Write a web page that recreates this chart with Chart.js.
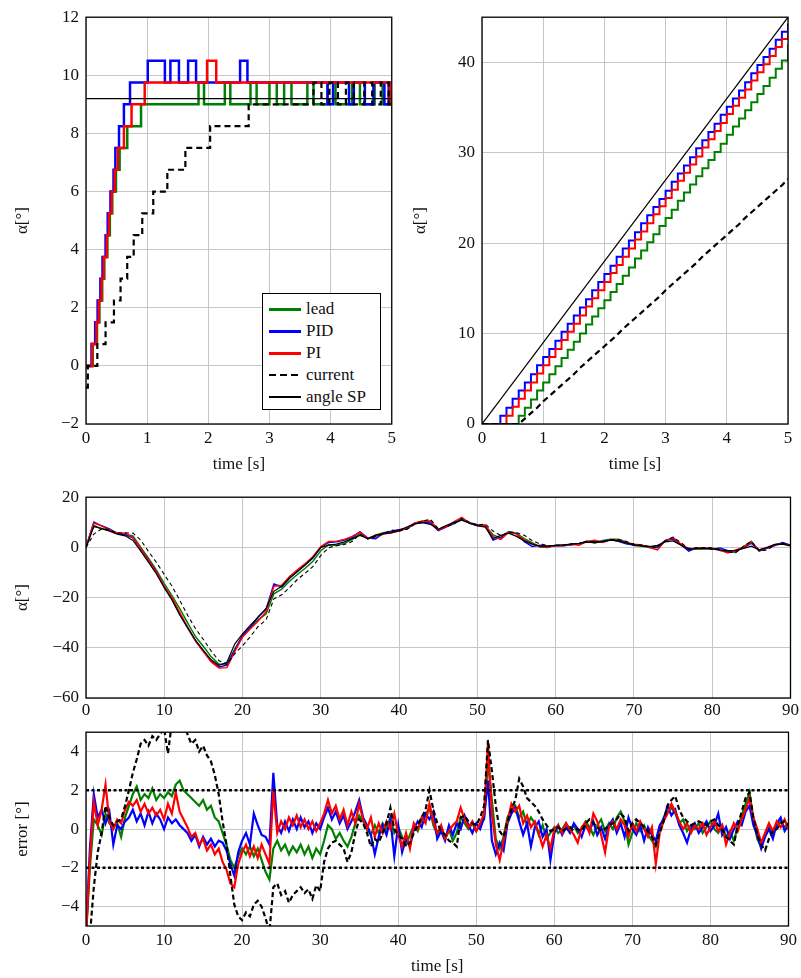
<!DOCTYPE html>
<html>
<head>
<meta charset="utf-8">
<script src="https://cdn.jsdelivr.net/npm/chart.js@4.4.1/dist/chart.umd.min.js"></script>
<style>
  body { margin: 0; background: #fff; width: 801px; height: 978px; position: relative; overflow: hidden; font-family: 'Liberation Serif', serif; }
  canvas { position: absolute; }
  #legend { position: absolute; left: 262px; top: 293px; width: 119px; height: 117px; border: 1px solid #000; background: #fff; padding-top: 4px; box-sizing: border-box; }
  #legend .row { display: flex; align-items: center; height: 22px; font-size: 17px; color: #111; }
  #legend .sample { width: 32px; margin-left: 6px; margin-right: 5px; }
</style>
</head>
<body>
<canvas id="cStart" width="400" height="480" style="left:0;top:0"></canvas>
<canvas id="cRamp" width="400" height="480" style="left:400px;top:0"></canvas>
<canvas id="cAngle" width="801" height="240" style="left:0;top:480px"></canvas>
<canvas id="cError" width="801" height="263" style="left:0;top:715px"></canvas>
<div id="legend"></div>
<script>
// series names / colours shared by all four panels
const seriesNames = ['lead', 'PID', 'PI', 'current', 'angle SP'];
const seriesColors = ['#008000', '#0000ff', '#ff0000', '#000000', '#000000'];

// ---- panel 1: step response, 0..5 s (times where the value changes) ----
const tLead = [0, 0.11, 0.18, 0.22, 0.265, 0.30, 0.35, 0.39, 0.43, 0.49, 0.55, 0.675, 0.90, 1.84, 1.93, 2.27, 2.36, 2.69, 2.79, 3.00, 3.12, 3.24, 3.36, 3.62, 3.72, 3.95, 4.08, 4.35, 4.48, 4.72, 4.85, 5.0];
const vLead = [0, 0.75, 1.5, 2.25, 3.0, 3.75, 4.5, 5.25, 6.0, 6.75, 7.5, 8.25, 9.0, 9.75, 9.0, 9.75, 9.0, 9.75, 9.0, 9.75, 9.0, 9.75, 9.0, 9.75, 9.0, 9.75, 9.0, 9.75, 9.0, 9.75, 9.0, 9.0];
const tPID = [0, 0.09, 0.15, 0.19, 0.235, 0.27, 0.32, 0.355, 0.40, 0.45, 0.48, 0.54, 0.62, 0.72, 1.01, 1.29, 1.38, 1.52, 1.67, 1.80, 2.52, 2.64, 3.95, 4.04, 4.30, 4.38, 4.56, 4.70, 4.88, 4.95, 5.0];
const vPID = [0, 0.75, 1.5, 2.25, 3.0, 3.75, 4.5, 5.25, 6.0, 6.75, 7.5, 8.25, 9.0, 9.75, 10.5, 9.75, 10.5, 9.75, 10.5, 9.75, 10.5, 9.75, 9.0, 9.75, 9.0, 9.75, 9.0, 9.75, 9.0, 9.75, 9.75];
const tPI = [0, 0.10, 0.17, 0.21, 0.255, 0.29, 0.34, 0.375, 0.42, 0.47, 0.52, 0.62, 0.745, 0.96, 1.98, 2.13, 4.97, 5.0];
const vPI = [0, 0.75, 1.5, 2.25, 3.0, 3.75, 4.5, 5.25, 6.0, 6.75, 7.5, 8.25, 9.0, 9.75, 10.5, 9.75, 9.0, 9.0];
const tCur = [0, 0.03, 0.185, 0.32, 0.457, 0.565, 0.674, 0.78, 0.92, 1.10, 1.33, 1.625, 2.03, 2.66, 3.72, 3.85, 3.98, 4.12, 4.25, 4.38, 4.55, 4.68, 4.82, 4.95, 5.0];
const vCur = [-0.75, 0, 0.75, 1.5, 2.25, 3.0, 3.75, 4.5, 5.25, 6.0, 6.75, 7.5, 8.25, 9.0, 9.75, 9.0, 9.75, 9.0, 9.75, 9.0, 9.75, 9.0, 9.75, 9.0, 9.0];
const tSP1 = [0, 5];
const vSP1 = [9.2, 9.2];

// ---- panel 2: ramp response, sampled every 0.1 s ----
const tRamp = [0,0.1,0.2,0.3,0.4,0.5,0.6,0.7,0.8,0.9,1,1.1,1.2,1.3,1.4,1.5,1.6,1.7,1.8,1.9,2,2.1,2.2,2.3,2.4,2.5,2.6,2.7,2.8,2.9,3,3.1,3.2,3.3,3.4,3.5,3.6,3.7,3.8,3.9,4,4.1,4.2,4.3,4.4,4.5,4.6,4.7,4.8,4.9,5];
const rampLead = [0,0,0,0,0,0,0.9,1.8,2.7,3.7,4.6,5.5,6.4,7.3,8.2,9.1,10.0,11.0,11.9,12.8,13.7,14.6,15.5,16.4,17.3,18.3,19.2,20.1,21.0,21.9,22.8,23.7,24.7,25.6,26.5,27.4,28.3,29.2,30.1,31.0,32.0,32.9,33.8,34.7,35.6,36.5,37.4,38.3,39.3,40.2,42.0];
const rampPID = [0,0,0,0.9,1.8,2.8,3.7,4.6,5.5,6.5,7.4,8.3,9.2,10.2,11.1,12.0,12.9,13.8,14.8,15.7,16.6,17.5,18.5,19.4,20.3,21.2,22.2,23.1,24.0,24.9,25.8,26.8,27.7,28.6,29.5,30.5,31.4,32.3,33.2,34.2,35.1,36.0,36.9,37.8,38.8,39.7,40.6,41.5,42.5,43.4,44.3];
const rampPI = [0,0,0,0,0.9,1.9,2.8,3.7,4.6,5.6,6.5,7.4,8.3,9.3,10.2,11.1,12.0,13.0,13.9,14.8,15.7,16.7,17.6,18.5,19.4,20.4,21.3,22.2,23.2,24.1,25.0,25.9,26.9,27.8,28.7,29.6,30.6,31.5,32.4,33.3,34.3,35.2,36.1,37.0,38.0,38.9,39.8,40.7,41.7,42.6,43.5];
const rampCur = [0,0,0,0,0,0,0,0.6,1.2,1.8,2.5,3.1,3.7,4.3,4.9,5.5,6.2,6.8,7.4,8.0,8.6,9.2,9.8,10.5,11.1,11.7,12.3,12.9,13.5,14.1,14.8,15.4,16.0,16.6,17.2,17.8,18.5,19.1,19.7,20.3,20.9,21.5,22.1,22.8,23.4,24.0,24.6,25.2,25.8,26.4,27.1];
const tSP2 = [0, 5];
const vSP2 = [0, 45];

// ---- panel 3: angle over 90 s, sampled every 1 s ----
const tAngle = [0,1,2,3,4,5,6,7,8,9,10,11,12,13,14,15,16,17,18,19,20,21,22,23,24,25,26,27,28,29,30,31,32,33,34,35,36,37,38,39,40,41,42,43,44,45,46,47,48,49,50,51,52,53,54,55,56,57,58,59,60,61,62,63,64,65,66,67,68,69,70,71,72,73,74,75,76,77,78,79,80,81,82,83,84,85,86,87,88,89,90];
const angleSP = [0,8.3,7.6,6.5,5.3,4.6,2.8,-1.5,-6.0,-10.6,
  -16.0,-21.0,-27.0,-32.0,-37.0,-41.0,-44.8,-47.0,-45.8,-38.5,
  -34.5,-31.0,-27.8,-24.3,-17.5,-15.5,-12.2,-9.6,-7.0,-4.0,
  0.0,0.9,1.3,2.2,3.5,4.8,3.5,4.8,5.5,5.8,
  6.8,8.1,9.4,9.9,9.2,7.2,8.7,10.0,10.9,9.6,
  8.7,8.1,3.5,4.8,5.7,4.4,2.6,1.3,0.5,0.5,
  0.8,1.0,1.3,1.6,2.1,2.0,2.3,2.9,2.6,1.8,
  1.0,0.6,0.3,0.8,2.2,2.6,0.9,-0.8,-0.5,-0.4,
  -0.6,-1.0,-1.4,-1.3,-0.4,0.5,-1.0,0.0,1.2,1.3,
  0.6];
const angleLead = [0,8.8,7.3,6.8,5.6,5.2,4.6,0.0,-4.4,-9.1,
  -14.4,-19.3,-24.5,-30.2,-35.6,-39.5,-43.6,-46.6,-46.6,-40.5,
  -35.5,-31.9,-28.8,-26.5,-18.5,-16.6,-13.5,-10.8,-8.3,-5.5,
  -1.3,1.1,0.8,1.6,3.1,5.5,3.5,5.0,5.8,6.4,
  6.9,7.3,9.6,10.4,10.3,6.9,8.3,9.4,11.5,9.6,
  8.6,8.6,5.0,3.8,6.3,5.6,3.5,1.9,0.2,0.0,
  0.9,1.0,1.2,1.4,2.5,1.7,2.8,3.2,3.2,2.2,
  0.8,0.5,0.0,-0.1,2.8,3.7,1.2,-0.9,-0.5,-0.6,
  -0.2,-1.2,-1.8,-1.9,0.3,2.4,-1.5,-0.3,1.0,1.7,
  0.9];
const anglePID = [0,10.1,8.6,7.4,5.5,5.0,3.8,-0.7,-5.1,-9.8,
  -16.0,-20.7,-26.8,-32.2,-37.3,-41.4,-45.3,-47.6,-46.9,-40.9,
  -35.1,-31.8,-27.6,-24.7,-14.6,-15.7,-12.3,-9.6,-6.9,-4.2,
  0.0,2.0,2.2,2.9,3.9,6.3,3.7,3.5,5.7,6.3,
  7.0,7.6,9.4,10.0,9.7,6.7,8.1,9.7,10.9,9.8,
  9.0,8.7,2.9,4.1,6.0,5.5,2.3,0.4,0.9,0.5,
  0.6,0.7,1.1,1.6,2.3,2.4,2.4,3.1,2.4,1.4,
  1.0,0.8,0.4,0.2,2.7,3.3,1.1,-1.5,-0.2,-0.3,
  -0.7,-0.2,-1.3,-1.3,-0.2,1.7,-1.3,-0.4,0.7,1.9,
  0.8];
const anglePI = [0,9.7,8.6,6.9,5.8,5.6,4.0,-0.6,-5.2,-9.9,
  -15.5,-20.2,-26.1,-31.9,-37.2,-41.5,-45.6,-48.0,-47.9,-41.5,
  -35.7,-32.4,-29.3,-25.6,-15.5,-15.1,-11.6,-8.9,-6.5,-3.6,
  0.3,2.4,2.5,3.2,4.4,6.1,3.5,4.4,5.3,5.8,
  6.5,7.9,9.7,10.5,10.5,7.0,8.2,10.2,12.0,9.7,
  8.6,8.9,4.3,3.2,6.1,5.3,2.9,1.4,0.3,0.2,
  0.8,0.8,1.3,0.9,2.4,2.8,2.0,3.0,2.6,2.0,
  1.3,1.0,-0.1,-1.0,2.6,3.9,1.3,-0.5,-0.3,-0.1,
  -0.5,-1.1,-2.2,-1.0,0.1,2.1,-1.0,-0.2,1.1,1.4,
  0.6];
const angleCur = [0,5.3,7.4,7.1,5.7,5.8,5.7,2.9,-1.7,-6.0,
  -10.8,-15.5,-21.2,-27.1,-32.4,-36.7,-41.3,-45.2,-46.6,-42.4,
  -39.2,-35.5,-31.5,-28.9,-20.5,-18.9,-16.0,-12.8,-10.3,-7.6,
  -3.2,-0.1,0.7,1.2,2.3,5.3,3.3,4.3,5.3,6.9,
  6.5,7.2,9.2,10.5,11.2,7.5,8.4,9.3,11.5,10.0,
  8.9,9.3,6.5,4.7,6.1,5.9,4.8,2.7,1.4,0.7,
  0.8,0.9,1.4,1.6,2.4,2.3,2.2,3.1,3.1,2.4,
  1.3,0.9,0.2,0.0,2.6,4.1,1.9,-0.4,-0.2,-0.1,
  -0.2,-0.8,-1.8,-2.1,0.5,2.4,-1.3,-1.1,1.1,1.6,
  0.8];

// ---- panel 4: angle error over 90 s, sampled every 0.5 s ----
const tError = [0,0.5,1,1.5,2,2.5,3,3.5,4,4.5,5,5.5,6,6.5,7,7.5,8,8.5,9,9.5,
  10,10.5,11,11.5,12,12.5,13,13.5,14,14.5,15,15.5,16,16.5,17,17.5,18,18.5,19,19.5,
  20,20.5,21,21.5,22,22.5,23,23.5,24,24.5,25,25.5,26,26.5,27,27.5,28,28.5,29,29.5,
  30,30.5,31,31.5,32,32.5,33,33.5,34,34.5,35,35.5,36,36.5,37,37.5,38,38.5,39,39.5,
  40,40.5,41,41.5,42,42.5,43,43.5,44,44.5,45,45.5,46,46.5,47,47.5,48,48.5,49,49.5,
  50,50.5,51,51.5,52,52.5,53,53.5,54,54.5,55,55.5,56,56.5,57,57.5,58,58.5,59,59.5,
  60,60.5,61,61.5,62,62.5,63,63.5,64,64.5,65,65.5,66,66.5,67,67.5,68,68.5,69,69.5,
  70,70.5,71,71.5,72,72.5,73,73.5,74,74.5,75,75.5,76,76.5,77,77.5,78,78.5,79,79.5,
  80,80.5,81,81.5,82,82.5,83,83.5,84,84.5,85,85.5,86,86.5,87,87.5,88,88.5,89,89.5,90];
const errLead = [-5.5,-2.0,0.5,0.2,-0.3,0.8,0.3,0.1,0.3,-0.4,
  0.6,1.2,1.8,2.2,1.5,1.8,1.6,2.1,1.5,1.8,
  1.6,1.9,1.7,2.3,2.5,2.0,1.8,1.6,1.4,1.2,
  1.5,1.0,1.2,0.6,0.4,-0.2,-0.8,-1.6,-2.0,-1.4,
  -1.0,-1.3,-0.9,-1.4,-1.0,-1.6,-2.2,-2.6,-1.0,-0.6,
  -1.1,-0.8,-1.3,-0.9,-1.2,-0.8,-1.3,-0.9,-1.5,-1.0,
  -1.3,-0.6,0.2,0.0,-0.5,-0.2,-0.6,-0.9,-0.4,0.3,
  0.7,0.4,0.0,-0.3,0.2,-0.2,0.3,0.0,0.6,-0.2,
  0.1,-0.4,-0.8,-0.3,0.2,-0.1,0.5,0.7,1.1,0.2,
  -0.3,0.1,-0.4,0.0,-0.6,-0.2,0.6,0.3,0.0,0.3,
  -0.1,0.2,0.5,3.5,1.5,-0.5,-1.0,-0.4,0.6,1.0,
  1.2,0.6,0.9,0.2,0.6,0.3,-0.3,0.2,-0.5,-0.2,
  0.1,-0.2,0.0,0.3,-0.1,0.2,-0.2,0.0,0.4,0.1,
  -0.3,0.2,0.5,-0.1,0.3,0.0,0.6,0.9,0.4,-0.8,
  -0.2,0.3,-0.1,0.2,-0.3,-0.6,-0.9,0.0,0.6,0.9,
  1.1,0.8,0.3,0.5,-0.1,0.2,0.0,0.3,-0.2,0.1,
  0.4,0.0,-0.2,0.2,-0.4,-0.1,-0.6,0.1,0.7,1.3,
  1.9,0.5,-0.5,-0.9,-0.3,0.1,-0.2,0.2,0.4,0.1,
  0.3];
const errPID = [-5.5,-1.0,1.8,0.6,1.0,0.3,0.9,-0.8,0.2,0.0,
  0.4,0.6,1.0,0.4,0.8,0.2,0.9,0.3,0.8,0.5,
  0.0,0.6,0.3,0.5,0.2,0.0,-0.2,-0.6,-0.3,-0.9,
  -0.4,-0.8,-0.5,-0.9,-0.6,-0.7,-1.1,-1.8,-2.4,-1.2,
  -0.6,-0.2,-0.8,0.8,0.2,-0.3,-0.4,-0.8,2.9,0.2,
  -0.2,0.4,-0.1,0.5,0.0,0.6,0.1,0.4,-0.2,0.3,
  0.0,0.6,1.1,0.5,0.9,0.3,0.7,0.0,0.4,0.9,
  1.5,0.6,0.2,-0.3,-1.3,-0.4,0.2,-0.3,0.5,-1.4,
  0.2,-1.2,-0.5,-0.9,0.0,0.4,0.1,0.8,0.5,0.9,
  -0.5,-0.1,-0.6,0.2,-0.3,0.3,0.0,0.7,0.2,-0.2,
  0.3,0.0,0.6,2.5,-0.6,-1.3,-0.7,-1.1,0.3,0.8,
  1.1,0.4,-0.3,0.3,-0.9,0.1,0.4,-0.4,0.0,-1.6,
  -0.2,0.2,-0.3,0.1,-0.2,0.3,0.0,-0.4,0.2,-0.1,
  0.4,-0.3,0.1,-0.5,0.2,0.5,-0.2,0.3,-0.4,0.6,
  0.0,-0.3,0.2,-0.6,0.1,-0.3,-0.6,0.2,0.5,1.2,
  0.7,1.0,0.2,-0.2,-0.7,0.0,0.3,-0.2,0.1,0.4,
  -0.1,0.2,0.8,-0.3,0.1,-0.5,0.0,0.4,0.2,0.9,
  1.2,0.2,-0.3,-1.0,-0.4,0.0,-0.5,0.3,0.6,-0.1,
  0.2];
const errPI = [-5.5,-1.5,1.4,0.2,1.0,2.3,0.4,0.0,0.5,0.3,
  1.0,1.4,1.2,1.5,0.9,1.3,0.8,1.1,0.7,1.0,
  0.5,1.3,0.8,1.9,0.9,0.5,0.1,-0.4,-0.2,-0.8,
  -0.5,-1.1,-0.8,-1.3,-1.0,-1.7,-2.1,-2.8,-3.0,-1.8,
  -1.2,-0.8,-1.4,-0.9,-1.5,-0.8,-1.3,-1.8,2.0,-0.2,
  0.4,0.0,0.6,0.2,0.7,0.1,0.5,0.0,0.4,-0.1,
  0.3,0.8,1.5,0.8,1.2,0.5,1.0,0.2,0.9,0.3,
  1.3,0.5,0.0,0.6,-0.4,0.3,-0.2,0.4,0.0,0.8,
  -0.3,-0.9,-0.2,-1.0,0.3,0.0,0.6,0.3,1.3,0.4,
  -0.2,0.2,-0.5,-0.1,0.2,0.4,1.1,0.5,0.1,0.4,
  -0.1,0.3,0.8,4.4,0.8,-0.8,-1.6,-0.6,0.4,1.3,
  0.9,1.2,0.3,0.7,0.1,0.4,-0.2,-0.9,-0.3,-1.0,
  0.0,0.2,-0.2,0.3,0.0,-0.3,-0.7,0.1,0.3,-0.2,
  0.8,0.4,-0.3,-1.2,0.1,0.4,0.0,0.5,0.2,-0.4,
  0.3,-0.1,0.4,0.0,-0.4,0.1,-1.8,-0.2,0.4,0.8,
  1.3,0.9,0.4,0.0,0.3,-0.2,0.2,0.0,0.3,-0.3,
  0.1,0.4,-0.1,0.2,-0.8,-0.2,0.3,-0.1,0.5,1.0,
  1.6,0.6,0.0,-0.7,-0.2,0.3,-0.1,0.4,0.1,0.5,
  0.0];
const errCur = [-5.5,-5.5,-3.0,-1.2,-0.2,1.2,0.6,0.2,0.4,0.5,
  1.2,2.0,2.9,3.6,4.4,4.6,4.3,4.8,4.6,4.9,
  5.2,3.9,5.5,5.6,5.8,5.5,4.9,4.4,4.6,4.0,
  4.3,3.8,3.5,2.8,1.8,0.4,-0.8,-2.4,-3.9,-4.5,
  -4.7,-4.3,-4.5,-3.9,-3.7,-4.0,-4.6,-5.3,-3.0,-2.8,
  -3.4,-3.2,-3.8,-3.4,-3.2,-3.0,-3.3,-3.1,-3.6,-2.9,
  -3.2,-1.7,-1.0,-0.7,-0.6,-0.8,-1.0,-1.7,-1.2,-0.2,
  0.5,0.3,-0.2,-0.9,-0.5,-0.7,-0.2,0.3,1.1,0.0,
  -0.3,-0.5,-0.9,-0.7,-0.2,0.2,0.6,1.0,2.0,1.0,
  0.3,-0.1,-0.3,-0.6,-0.7,-0.9,0.6,0.7,0.4,0.3,
  0.2,0.6,1.2,4.6,3.0,1.2,-0.1,-0.4,0.4,1.0,
  1.5,2.6,2.2,1.6,1.4,1.2,0.9,0.5,0.2,-0.1,
  0.0,0.1,-0.1,0.0,0.1,-0.1,0.0,-0.1,0.3,0.5,
  0.3,0.1,-0.1,0.0,0.2,0.3,0.5,0.8,0.6,-0.1,
  0.3,0.5,0.3,0.1,-0.1,-0.4,-0.8,-0.2,0.4,1.2,
  1.5,1.7,1.0,0.6,0.4,0.2,0.3,0.4,0.3,0.2,
  0.4,0.5,0.2,0.0,-0.4,-0.6,-0.8,0.2,0.9,1.6,
  1.9,0.6,-0.3,-0.8,-1.1,-0.5,-0.1,0.0,0.3,0.4,
  0.2];
const errBand = [2, -2];
const errBandX = [0, 90];

// tick labels
const ticksTime5 = [0, 1, 2, 3, 4, 5];
const ticksTime90 = [0, 10, 20, 30, 40, 50, 60, 70, 80, 90];
const ticksStart = [-2, 0, 2, 4, 6, 8, 10, 12];
const ticksRamp = [0, 10, 20, 30, 40];
const ticksAngle = [-60, -40, -20, 0, 20];
const ticksError = [-4, -2, 0, 2, 4];

const serif = "'Liberation Serif', 'Times New Roman', serif";
const pts = (ts, vs) => ts.map((t, i) => ({ x: t, y: vs[i] }));
const minus = v => (v < 0 ? '\u2212' + Math.abs(v) : String(v));

const frame = {
  id: 'frame',
  afterDraw(chart) {
    const { ctx, chartArea: a } = chart;
    ctx.save();
    ctx.strokeStyle = '#000';
    ctx.lineWidth = 1.3;
    ctx.strokeRect(a.left, a.top, a.right - a.left, a.bottom - a.top);
    ctx.restore();
  }
};

function series(idx, data, width, extra) {
  return Object.assign({
    label: seriesNames[idx],
    data: data,
    borderColor: seriesColors[idx],
    borderWidth: width,
    pointRadius: 0,
    fill: false,
    tension: 0,
    order: 4 - idx
  }, extra || {});
}

function axis(o) {
  return {
    type: 'linear',
    min: o.min, max: o.max,
    afterBuildTicks: s => { s.ticks = o.ticks.map(v => ({ value: v })); },
    afterFit: s => { if (o.w !== undefined) s.width = o.w; if (o.h !== undefined) s.height = o.h; },
    grid: { color: '#c6c6c6', lineWidth: 1, drawTicks: false },
    border: { display: false },
    ticks: { font: { family: serif, size: 17 }, color: '#111', padding: o.pad, maxRotation: 0, autoSkip: false, callback: minus },
    title: o.title ? { display: true, text: o.title, font: { family: serif, size: 17 }, color: '#111', padding: o.titlePad } : { display: false }
  };
}

function makeChart(id, datasets, pad, x, y) {
  return new Chart(document.getElementById(id), {
    type: 'line',
    data: { datasets: datasets },
    options: {
      responsive: false,
      animation: false,
      events: [],
      layout: { padding: pad },
      plugins: { legend: { display: false }, tooltip: { enabled: false } },
      scales: { x: axis(x), y: axis(y) }
    },
    plugins: [frame]
  });
}

// panel 1
makeChart('cStart', [
  series(0, pts(tLead, vLead), 2.5, { stepped: 'before' }),
  series(1, pts(tPID, vPID), 2.5, { stepped: 'before' }),
  series(2, pts(tPI, vPI), 2.5, { stepped: 'before' }),
  series(3, pts(tCur, vCur), 2.2, { stepped: 'before', borderDash: [6, 4] }),
  series(4, pts(tSP1, vSP1), 1.2)
], { top: 15, right: 8, left: 0, bottom: 0 },
  { min: 0, max: 5, ticks: ticksTime5, h: 56, pad: 4, title: 'time [s]', titlePad: { top: 0, bottom: 5 } },
  { min: -2, max: 12, ticks: ticksStart, w: 86, pad: 7, title: 'α[°]', titlePad: { top: 12, bottom: 0 } });

// panel 2
makeChart('cRamp', [
  series(0, pts(tRamp, rampLead), 2, { stepped: 'before' }),
  series(1, pts(tRamp, rampPID), 2, { stepped: 'before' }),
  series(2, pts(tRamp, rampPI), 2, { stepped: 'before' }),
  series(3, pts(tRamp, rampCur), 2.2, { borderDash: [6, 4] }),
  series(4, pts(tSP2, vSP2), 1.2)
], { top: 15, right: 12, left: 0, bottom: 0 },
  { min: 0, max: 5, ticks: ticksTime5, h: 56, pad: 4, title: 'time [s]', titlePad: { top: 0, bottom: 5 } },
  { min: 0, max: 45, ticks: ticksRamp, w: 82, pad: 7, title: 'α[°]', titlePad: { top: 10, bottom: 0 } });

// panel 3
makeChart('cAngle', [
  series(0, pts(tAngle, angleLead), 1.5),
  series(1, pts(tAngle, anglePID), 1.5),
  series(2, pts(tAngle, anglePI), 1.5),
  series(3, pts(tAngle, angleCur), 1.1, { borderDash: [4, 3] }),
  series(4, pts(tAngle, angleSP), 1.2)
], { top: 14, right: 9, left: 0, bottom: 0 },
  { min: 0, max: 90, ticks: ticksTime90, h: 22, pad: 2 },
  { min: -60, max: 20, ticks: ticksAngle, w: 86, pad: 7, title: 'α[°]', titlePad: { top: 12, bottom: 0 } });

// panel 4
makeChart('cError', [
  series(0, pts(tError, errLead), 2.2),
  series(1, pts(tError, errPID), 2.2),
  series(2, pts(tError, errPI), 2.2),
  series(3, pts(tError, errCur), 2.2, { borderDash: [5, 3] }),
  { label: 'upper', data: pts(errBandX, [errBand[0], errBand[0]]), borderColor: '#000', borderWidth: 2.5, borderDash: [3, 2.5], pointRadius: 0, order: -1 },
  { label: 'lower', data: pts(errBandX, [errBand[1], errBand[1]]), borderColor: '#000', borderWidth: 2.5, borderDash: [3, 2.5], pointRadius: 0, order: -1 }
], { top: 7, right: 9, left: 0, bottom: 0 },
  { min: 0, max: 90, ticks: ticksTime90, h: 52, pad: 4, title: 'time [s]', titlePad: { top: 0, bottom: 1 } },
  { min: -5, max: 5, ticks: ticksError, w: 86, pad: 7, title: 'error [°]', titlePad: { top: 12, bottom: 0 } });

// legend inside panel 1
const legend = document.getElementById('legend');
seriesNames.forEach((name, i) => {
  const row = document.createElement('div');
  row.className = 'row';
  const s = document.createElement('div');
  s.className = 'sample';
  if (i === 3) {
    s.style.height = '2.5px';
    s.style.background = 'repeating-linear-gradient(90deg,#000 0 7px,transparent 7px 11px)';
  } else {
    s.style.height = i === 4 ? '1.2px' : '3px';
    s.style.background = seriesColors[i];
  }
  const txt = document.createElement('span');
  txt.textContent = name;
  row.appendChild(s);
  row.appendChild(txt);
  legend.appendChild(row);
});
</script>
</body>
</html>
